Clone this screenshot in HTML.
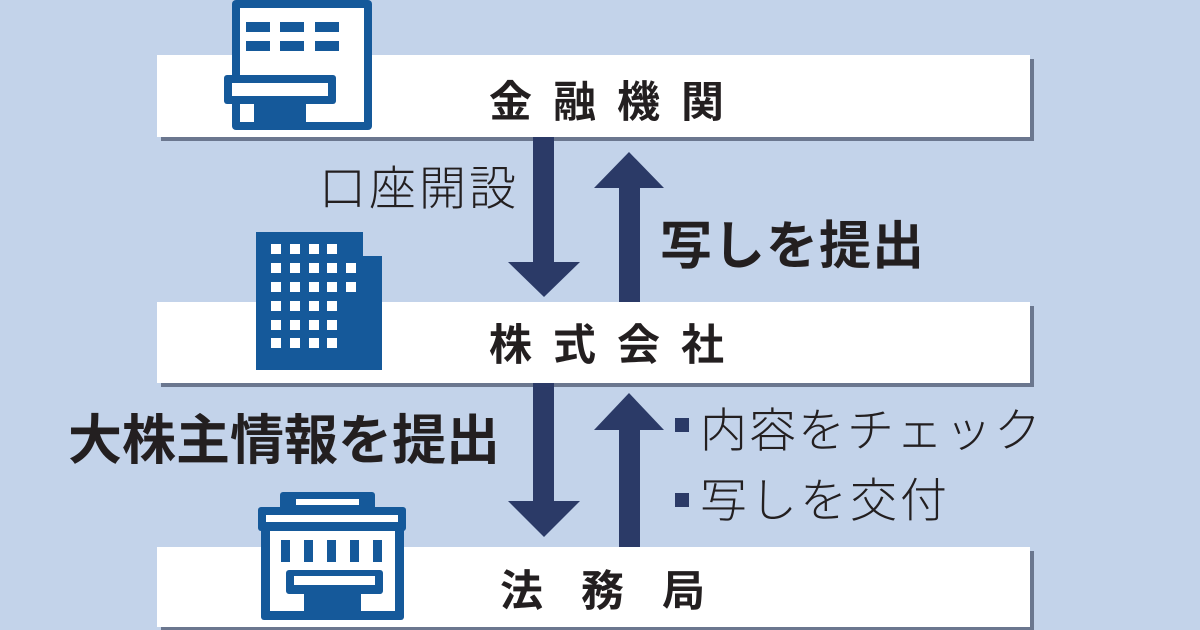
<!DOCTYPE html>
<html><head><meta charset="utf-8"><style>
html,body{margin:0;padding:0;background:#c3d3ea;}
svg{display:block}
text{font-family:"Liberation Sans","Noto Sans CJK JP",sans-serif;fill:#231f20}
</style></head><body>
<svg width="1200" height="630" viewBox="0 0 1200 630" xmlns="http://www.w3.org/2000/svg">
<rect width="1200" height="630" fill="#c3d3ea"/>
<g fill="#6b778f">
<rect x="161" y="59" width="873" height="82"/>
<rect x="161" y="306" width="873" height="81"/>
<rect x="161" y="551" width="873" height="79"/>
</g>
<g fill="#fff">
<rect x="157" y="55" width="873" height="82"/>
<rect x="157" y="302" width="873" height="81"/>
<rect x="157" y="547" width="873" height="80"/>
</g>
<g fill="#2b3a67">
<rect x="533" y="137" width="21" height="127"/>
<polygon points="508,262 580,262 544,297"/>
<rect x="619" y="186" width="21" height="116"/>
<polygon points="594,188 664,188 629,152"/>
<rect x="533" y="383" width="21" height="120"/>
<polygon points="508,501 580,501 544,537"/>
<rect x="619" y="428" width="21" height="119"/>
<polygon points="594,430 664,430 629,393"/>
<rect x="675" y="418" width="14" height="14"/>
<rect x="675" y="493" width="14" height="14"/>
</g>
<g fill="#15599a">
<rect x="232" y="0" width="140" height="130" rx="4"/>
</g>
<rect x="240" y="8" width="124" height="114" fill="#fff"/>
<g fill="#15599a">
<rect x="246" y="22" width="24" height="10"/><rect x="280" y="22" width="24" height="10"/><rect x="315" y="22" width="24" height="10"/>
<rect x="246" y="41" width="24" height="10"/><rect x="280" y="41" width="24" height="10"/><rect x="315" y="41" width="24" height="10"/>
<rect x="224" y="75" width="112" height="29" rx="3"/>
<rect x="254" y="103" width="52" height="22"/>
</g>
<rect x="232" y="83" width="96" height="13" fill="#fff"/>
<g fill="#15599a">
<rect x="256" y="232" width="107" height="138"/>
<rect x="360" y="256" width="22" height="114"/>
</g>
<g fill="#fff">
<rect x="271" y="244" width="10" height="10"/><rect x="290" y="244" width="10" height="10"/><rect x="309" y="244" width="10" height="10"/><rect x="327" y="244" width="10" height="10"/>
<rect x="271" y="263" width="10" height="10"/><rect x="290" y="263" width="10" height="10"/><rect x="309" y="263" width="10" height="10"/><rect x="327" y="263" width="10" height="10"/><rect x="346" y="263" width="10" height="10"/>
<rect x="271" y="282" width="10" height="10"/><rect x="290" y="282" width="10" height="10"/><rect x="309" y="282" width="10" height="10"/><rect x="327" y="282" width="10" height="10"/><rect x="346" y="282" width="10" height="10"/>
<rect x="271" y="301" width="10" height="10"/><rect x="290" y="301" width="10" height="10"/><rect x="309" y="301" width="10" height="10"/><rect x="327" y="301" width="10" height="10"/>
<rect x="271" y="320" width="10" height="10"/><rect x="290" y="320" width="10" height="10"/><rect x="309" y="320" width="10" height="10"/><rect x="327" y="320" width="10" height="10"/>
<rect x="271" y="338" width="10" height="10"/><rect x="290" y="338" width="10" height="10"/><rect x="309" y="338" width="10" height="10"/><rect x="327" y="338" width="10" height="10"/>
</g>
<g fill="#15599a">
<rect x="280" y="492" width="95" height="18" rx="3"/>
<rect x="258" y="507" width="148" height="24" rx="3"/>
<rect x="261" y="528" width="143" height="92" rx="3"/>
</g>
<g fill="#fff">
<rect x="296" y="499" width="63" height="6"/>
<rect x="266" y="515" width="132" height="7"/>
<rect x="270" y="531" width="125" height="80"/>
</g>
<g fill="#15599a">
<rect x="281" y="540" width="9" height="22"/><rect x="304" y="540" width="9" height="22"/><rect x="327" y="540" width="9" height="22"/><rect x="350" y="540" width="9" height="22"/><rect x="373" y="540" width="9" height="22"/>
<rect x="286" y="570" width="97" height="24" rx="3"/>
<rect x="304" y="592" width="57" height="22"/>
</g>
<rect x="294" y="576" width="81" height="9" fill="#fff"/>
<text x="489" y="117" font-size="43" font-weight="bold" letter-spacing="21">金融機関</text>
<text x="489" y="360" font-size="43" font-weight="bold" letter-spacing="21">株式会社</text>
<text x="500" y="606" font-size="43" font-weight="bold" letter-spacing="38">法務局</text>
<text x="319" y="205" font-size="47" font-weight="300" letter-spacing="3">口座開設</text>
<text x="660" y="264" font-size="52" font-weight="bold" letter-spacing="1">写しを提出</text>
<text x="68" y="459" font-size="54" font-weight="bold">大株主情報を提出</text>
<text x="700" y="447" font-size="47" font-weight="300" letter-spacing="2">内容をチェック</text>
<text x="700" y="517" font-size="47" font-weight="300" letter-spacing="3">写しを交付</text>
</svg>
</body></html>
